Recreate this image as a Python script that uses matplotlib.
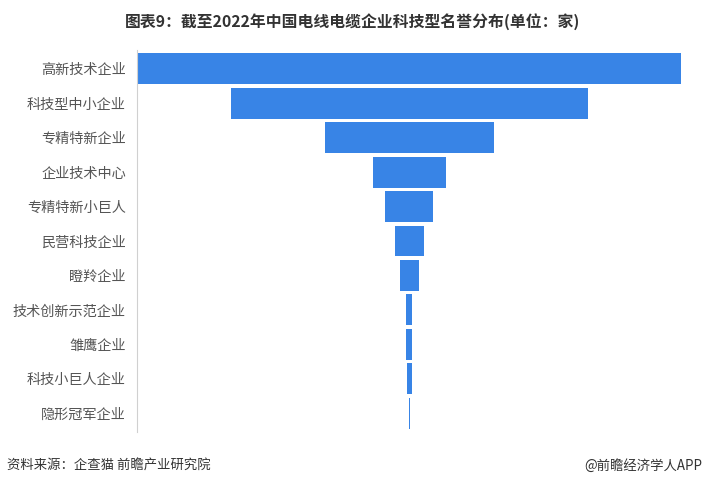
import matplotlib.pyplot as plt

plt.rcParams['font.family'] = ['Noto Sans CJK SC', 'DejaVu Sans']

categories = ['高新技术企业', '科技型中小企业', '专精特新企业', '企业技术中心', '专精特新小巨人',
              '民营科技企业', '瞪羚企业', '技术创新示范企业', '雏鹰企业', '科技小巨人企业', '隐形冠军企业']
counts = [1088, 714, 338, 146, 96, 58, 38, 12, 12, 10, 2]


def plotting():
    fig = plt.figure(figsize=(7.06, 4.87), dpi=100)
    ax = fig.add_axes([137 / 706, 1 - 432 / 487, 544 / 706, 382 / 487])

    y = list(range(len(categories)))
    lefts = [-c / 2 for c in counts]
    ax.barh(y, counts, left=lefts, height=0.9, color='#3884e6')

    m = max(counts) / 2
    ax.set_xlim(-m, m)
    ax.set_ylim(len(categories) - 0.45, -0.55)
    ax.set_yticks(y)
    ax.set_yticklabels(categories, fontsize=10.2, color='#555555')
    ax.set_xticks([])
    for s in ['top', 'right', 'bottom']:
        ax.spines[s].set_visible(False)
    ax.spines['left'].set_color('#d0d0d0')
    ax.tick_params(axis='y', length=0, pad=8)

    fig.text(0.5, 1 - 22 / 487, '图表9：截至2022年中国电线电缆企业科技型名誉分布(单位：家)',
             ha='center', va='center', fontsize=11.4, fontweight='bold', color='#333333')
    fig.text(7 / 706, 1 - 466 / 487, '资料来源：企查猫 前瞻产业研究院', ha='left', va='center',
             fontsize=9.6, color='#333333')
    fig.text(702 / 706, 1 - 466 / 487, '@前瞻经济学人APP', ha='right', va='center',
             fontsize=9.6, color='#333333')

    fig.savefig('out.png', dpi=100)


if __name__ == '__main__':
    plotting()
